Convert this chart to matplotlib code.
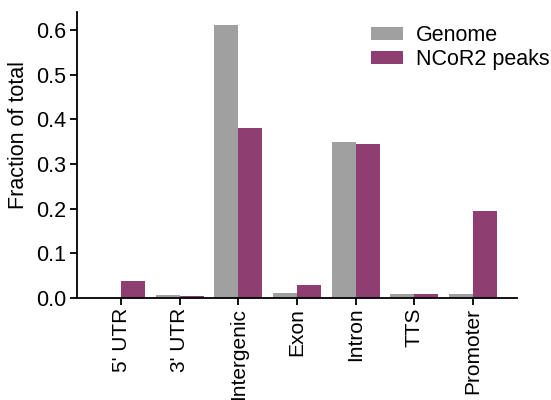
import numpy as np
import matplotlib.pyplot as plt

plt.rcParams['font.family'] = ['Liberation Sans', 'DejaVu Sans']

categories = ["5' UTR", "3' UTR", "Intergenic", "Exon", "Intron", "TTS", "Promoter"]
genome = [0.0, 0.007, 0.61, 0.012, 0.35, 0.01, 0.01]
ncor2 = [0.038, 0.005, 0.38, 0.03, 0.344, 0.01, 0.194]

x = np.arange(len(categories))
w = 0.41

fig = plt.figure(figsize=(5.51, 4), dpi=100)
ax = fig.add_axes([0.14, 0.255, 0.798, 0.715])

ax.bar(x - w/2, genome, w, color="#a0a0a0", label="Genome")
ax.bar(x + w/2, ncor2, w, color="#8e3e70", label="NCoR2 peaks")

ax.set_xlim(-0.75, 6.75)
ax.set_ylim(0, 0.64)
ax.set_yticks([0, 0.1, 0.2, 0.3, 0.4, 0.5, 0.6])
ax.set_yticklabels(["0.0", "0.1", "0.2", "0.3", "0.4", "0.5", "0.6"])
ax.set_xticks(x)
ax.set_xticklabels(categories, rotation=90)
ax.tick_params(labelsize=15.5, width=1.3, length=5, pad=3)
ax.tick_params(axis="x", labelsize=15, pad=2)
ax.set_ylabel("Fraction of total", fontsize=15.5)
ax.yaxis.set_label_coords(-0.11, 0.57)

for s in ["top", "right"]:
    ax.spines[s].set_visible(False)
for s in ["left", "bottom"]:
    ax.spines[s].set_linewidth(1.3)

ax.legend(frameon=False, fontsize=15.5, loc="upper right", bbox_to_anchor=(1.103, 1.0),
          handlelength=1.45, handleheight=0.55, labelspacing=0.15, handletextpad=0.6,
          borderpad=0.1)

fig.savefig("out.png", dpi=100)
